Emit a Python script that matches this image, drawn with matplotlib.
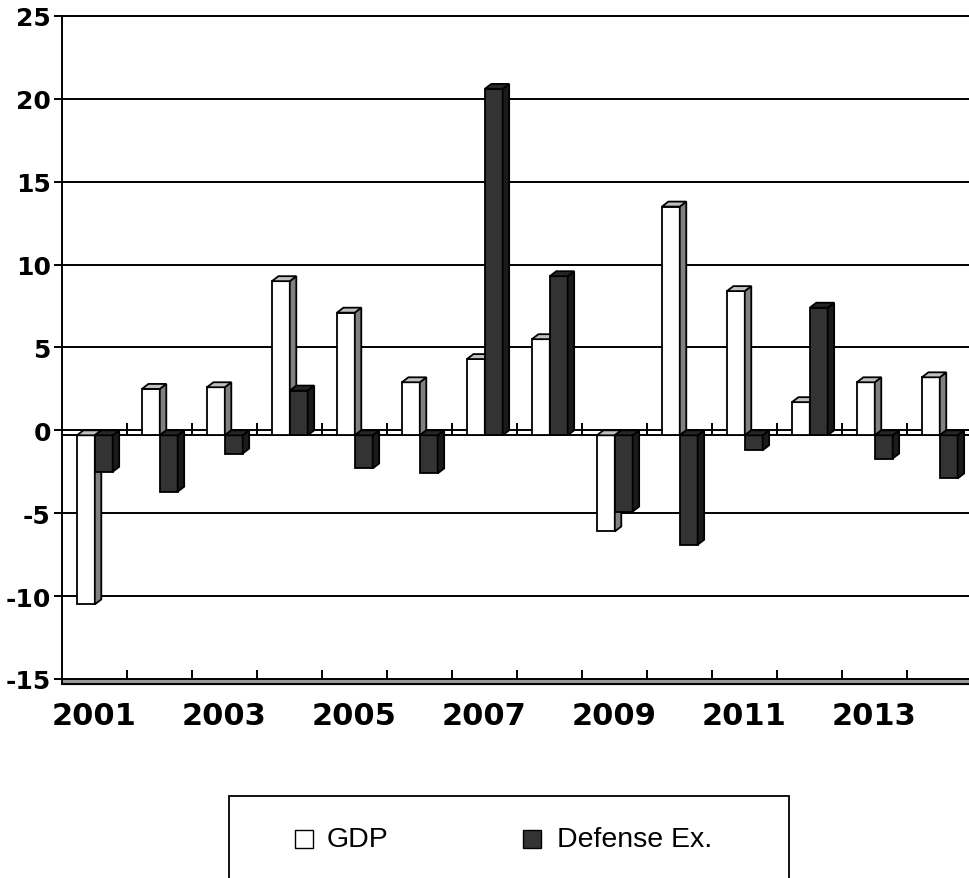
import numpy as np
import matplotlib.pyplot as plt
from matplotlib.patches import Polygon, Rectangle

plt.rcParams["font.family"] = ["Liberation Sans", "DejaVu Sans"]

years = list(range(2001, 2015))
gdp = [-10.2, 2.8, 2.9, 9.3, 7.4, 3.2, 4.6, 5.8, -5.8, 13.8, 8.7, 2.0, 3.2, 3.5]
defense = [-2.2, -3.4, -1.1, 2.7, -2.0, -2.3, 20.9, 9.6, -4.6, -6.6, -0.9, 7.7, -1.4, -2.6]
series_names = ["GDP", "Defense Ex."]
yticks = [-15, -10, -5, 0, 5, 10, 15, 20, 25]

# front / side / top shades for the pseudo-3D columns
FACES = {
    "GDP": ("#ffffff", "#808080", "#c0c0c0"),
    "Defense Ex.": ("#333333", "#1a1a1a", "#262626"),
}
BW = 0.275   # column width
DX = 0.10    # depth, x
DY = 0.30    # depth, y


def column(ax, left, v, faces, z):
    front, side, top = faces
    right = left + BW
    ax.bar(left, v, width=BW, bottom=-DY, align="edge", facecolor=front,
           edgecolor="black", linewidth=1.3, zorder=z)
    t = max(v, 0)
    top_pts = [(left, t - DY), (right, t - DY), (right + DX, t), (left + DX, t)]
    side_pts = [(right, -DY), (right + DX, 0), (right + DX, v), (right, v - DY)]
    ax.add_patch(Polygon(side_pts, closed=True, facecolor=side, edgecolor="black",
                         linewidth=1.3, zorder=z))
    ax.add_patch(Polygon(top_pts, closed=True, facecolor=top, edgecolor="black",
                         linewidth=1.3, zorder=z))


fig = plt.figure(figsize=(9.7, 8.79), dpi=100)
ax = fig.add_axes([0.0639, 0.2189, 0.9381, 0.7618])
n = len(years)
ax.set_xlim(-0.5, n - 0.5)
ax.set_ylim(-15.4, 25)

# back wall gridlines
for y in yticks:
    ax.axhline(y, color="black", lw=1.4, zorder=1, clip_on=False)

# floor lines at zero and at the bottom, with category ticks
bounds = np.arange(n) + 0.5
ax.axhline(-DY, color="black", lw=1.4, zorder=1)
ax.vlines(bounds[:-1], -DY, 0.45, color="black", lw=1.4, zorder=1)
ax.axhline(-15 - DY, color="black", lw=1.4, zorder=1)
ax.fill_between([-0.5, n - 0.5], -15 - DY, -15, color="#9a9a9a", zorder=0.5)
ax.vlines(bounds[:-1], -15, -14.45, color="black", lw=1.4, zorder=1)

z = 3
for i in range(n):
    column(ax, i - 0.27, gdp[i], FACES["GDP"], z)
    column(ax, i + 0.005, defense[i], FACES["Defense Ex."], z + 1)
    z += 2

for s in ["top", "right", "bottom"]:
    ax.spines[s].set_visible(False)
ax.spines["left"].set_linewidth(1.4)
ax.spines["left"].set_bounds(-15 - DY, 25)

ax.set_yticks(yticks)
ax.set_yticklabels([str(v) for v in yticks], fontsize=18, fontweight="bold",
                   family="DejaVu Sans")
ax.tick_params(axis="y", length=6, width=1.4, pad=2)
ax.set_xticks(range(0, n, 2))
ax.set_xticklabels([str(years[i]) for i in range(0, n, 2)], fontsize=22,
                   fontweight="bold", family="DejaVu Sans")
ax.tick_params(axis="x", length=0, pad=11)

# legend box, running off the bottom edge
fig.add_artist(Rectangle((0.2361, -0.05), 0.5773, 0.1433, transform=fig.transFigure,
                         facecolor="white", edgecolor="black", lw=1.3))
for (mx, tx, name) in [(0.3041, 0.3371, "GDP"), (0.5392, 0.5742, "Defense Ex.")]:
    fig.add_artist(Rectangle((mx, 0.0342), 0.0186, 0.0205, transform=fig.transFigure,
                             facecolor=FACES[name][0], edgecolor="black", lw=1.0))
    fig.text(tx, 0.0444, name, fontsize=20.5, va="center", ha="left",
             family="Liberation Sans")

fig.savefig("out.png", dpi=100)
